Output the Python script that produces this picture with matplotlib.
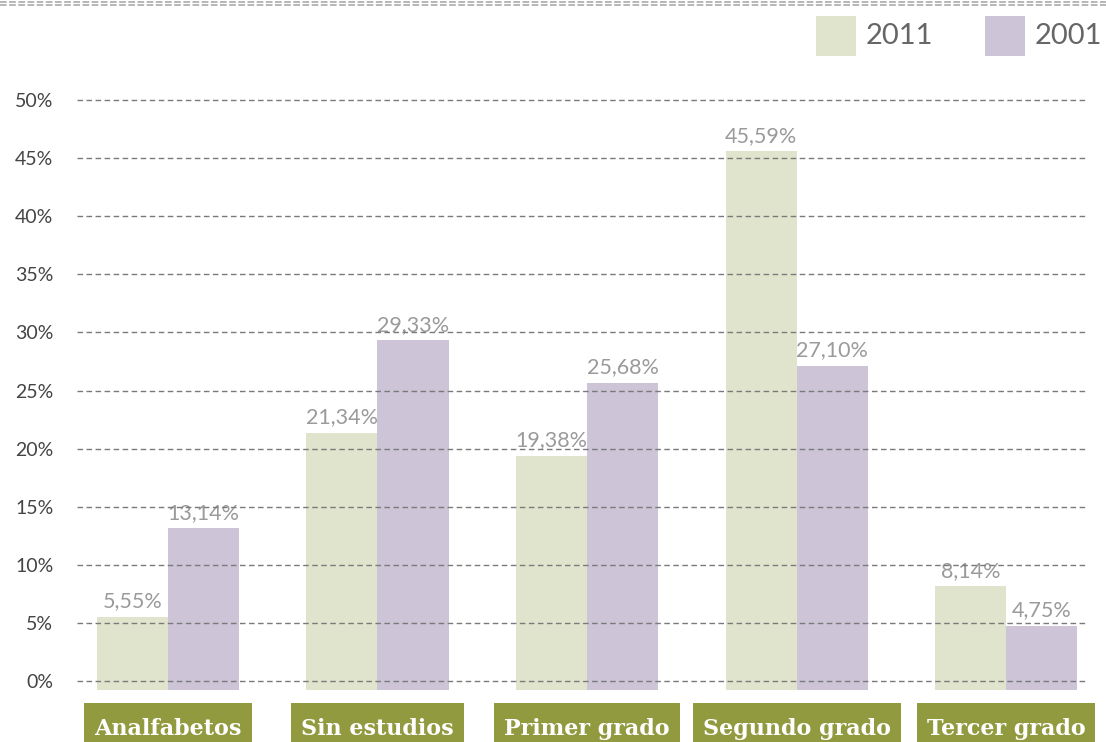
import matplotlib
matplotlib.use("Agg")
import matplotlib.pyplot as plt
from matplotlib.lines import Line2D
import matplotlib.transforms as mtransforms
import numpy as np

categories = ["Analfabetos", "Sin estudios", "Primer grado", "Segundo grado", "Tercer grado"]
values_2011 = [5.55, 21.34, 19.38, 45.59, 8.14]
values_2001 = [13.14, 29.33, 25.68, 27.10, 4.75]
series_names = ["2011", "2001"]
yticks = [0, 5, 10, 15, 20, 25, 30, 35, 40, 45, 50]

C2011 = "#e1e4cd"
C2001 = "#cdc4d8"
OLIVE = "#919a3e"

W, H = 1106, 742
fig = plt.figure(figsize=(W / 100, H / 100), dpi=100)
ax = fig.add_axes([77 / W, 1 - 692 / H, (1088 - 77) / W, (692 - 95) / H])

ppu = (681 - 100) / 50.0
ylo = -(692 - 681) / ppu
yhi = 50 + (100 - 95) / ppu
ax.set_ylim(ylo, yhi)
ax.set_xlim(-0.434, 4.391)

x = np.arange(len(categories))
bw = 0.339
base = -(690 - 681) / ppu
ax.bar(x - bw / 2, np.array(values_2011) - base, bottom=base, width=bw, color=C2011, zorder=1)
ax.bar(x + bw / 2, np.array(values_2001) - base, bottom=base, width=bw, color=C2001, zorder=1)

lab_kw = dict(textcoords="offset points", ha="center", va="bottom",
              fontsize=15.5, color="#9a9a9a", family="Lato", zorder=2)
for xi, v in zip(x, values_2011):
    ax.annotate(f"{v:.2f}".replace(".", ",") + "%", (xi - bw / 2, v), xytext=(0, 4), **lab_kw)
for xi, v in zip(x, values_2001):
    ax.annotate(f"{v:.2f}".replace(".", ",") + "%", (xi + bw / 2, v), xytext=(0, 4), **lab_kw)

for t in yticks:
    ax.axhline(t, color="#7a7a7a", lw=1, ls=(0, (4, 2.5)), zorder=3)

ax.set_yticks(yticks)
ax.set_yticklabels([f"{t}%" for t in yticks], family="Lato", fontsize=14, color="#444444")
ax.tick_params(axis="y", length=0, pad=17)
ax.set_xticks([])
for s in ax.spines.values():
    s.set_visible(False)

trans = mtransforms.blended_transform_factory(ax.transData, fig.transFigure)
texts = []
for xi, c in zip(x, categories):
    t = ax.text(xi, 1 - 735 / H, c, transform=trans, ha="center", va="baseline",
                fontsize=16, fontweight="bold", family="DejaVu Serif", color="white",
                zorder=6, clip_on=False)
    texts.append(t)

fig.canvas.draw()
renderer = fig.canvas.get_renderer()
for t in texts:
    bb = t.get_window_extent(renderer)
    x0 = bb.x0 - 10
    x1 = bb.x1 + 10
    fig.add_artist(plt.Rectangle((x0 / W, 0), (x1 - x0) / W, (H - 703) / H,
                                 transform=fig.transFigure, fc=OLIVE, ec="none", zorder=0))

# Top double dashed lines
for yy in [1.5, 5]:
    fig.add_artist(Line2D([0, 1], [1 - yy / H, 1 - yy / H], transform=fig.transFigure,
                          color="#aaaaaa", lw=1.2, ls=(0, (4, 1.5))))

# Legend
for (x0, name, col) in [(816, series_names[0], C2011), (985, series_names[1], C2001)]:
    fig.add_artist(plt.Rectangle((x0 / W, 1 - 56 / H), 40 / W, 40 / H,
                                 transform=fig.transFigure, fc=col, ec="none"))
    fig.text((x0 + 50) / W, 1 - 36 / H, name, ha="left", va="center",
             fontsize=21, family="Lato", color="#666666")

fig.savefig("out.png", dpi=100)
